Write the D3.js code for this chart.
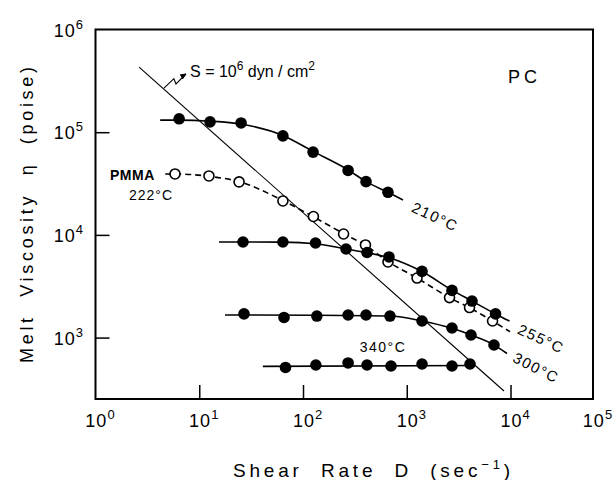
<!DOCTYPE html>
<html>
<head>
<meta charset="utf-8">
<script src="https://cdn.jsdelivr.net/npm/d3@7"></script>
<style>
  html, body { margin: 0; padding: 0; background: #fff; }
  svg { display: block; }
  text { font-family: "Liberation Sans", "DejaVu Sans", sans-serif; fill: #000; }
</style>
</head>
<body>
<svg id="chart" width="615" height="480"></svg>
<script>
// ---- data ----
const xTickExponents = [0, 1, 2, 3, 4, 5];
const yTickExponents = [3, 4, 5, 6];

const pc210D   = [6.4, 12.7, 25.3, 64, 125, 272, 405, 659];
const pc210Eta = [1.35e5, 1.26e5, 1.23e5, 9.2e4, 6.4e4, 4.24e4, 3.3e4, 2.6e4];
const pc210FitD   = [4.2, 6.4, 12.7, 25.3, 64, 125, 272, 405, 659, 920];
const pc210FitEta = [1.31e5, 1.31e5, 1.28e5, 1.2e5, 9.3e4, 6.5e4, 4.3e4, 3.3e4, 2.6e4, 2.19e4];

const pmmaD   = [5.84, 12.4, 24.2, 64, 126, 246, 400, 659, 1256, 2583, 4027, 6710];
const pmmaEta = [3.92e4, 3.75e4, 3.28e4, 2.14e4, 1.51e4, 1.02e4, 7.98e3, 5.45e3, 3.80e3, 2.45e3, 1.96e3, 1.45e3];
const pmmaFitD   = [4.7, 5.84, 12.4, 24.2, 64, 126, 246, 400, 659, 1256, 2583, 4027, 6710, 9890];
const pmmaFitEta = [3.92e4, 3.92e4, 3.72e4, 3.3e4, 2.16e4, 1.5e4, 1.03e4, 7.9e3, 5.5e3, 3.8e3, 2.45e3, 1.95e3, 1.45e3, 1.14e3];

const pc255D   = [26.4, 64, 132, 260, 414, 674, 1403, 2728, 4254, 7169];
const pc255Eta = [8.53e3, 8.53e3, 8.34e3, 7.29e3, 6.74e3, 6.10e3, 4.41e3, 2.88e3, 2.27e3, 1.70e3];
const pc255FitD   = [15.5, 64, 132, 260, 414, 674, 1403, 2728, 4254, 7169, 9780];
const pc255FitEta = [8.53e3, 8.5e3, 8.2e3, 7.3e3, 6.7e3, 6.0e3, 4.4e3, 2.9e3, 2.27e3, 1.70e3, 1.45e3];

const pc300D   = [27, 65.6, 136, 272, 405, 689, 1403, 2728, 4160, 6930];
const pc300Eta = [1.70e3, 1.57e3, 1.62e3, 1.66e3, 1.66e3, 1.62e3, 1.45e3, 1.24e3, 1.06e3, 847];
const pc300FitD   = [17.7, 136, 689, 1403, 2728, 4160, 6930, 9250];
const pc300FitEta = [1.66e3, 1.65e3, 1.62e3, 1.45e3, 1.23e3, 1.06e3, 850, 700];

const pc340D   = [67.8, 133, 272, 414, 705, 1403, 2728, 4070];
const pc340Eta = [512, 541, 566, 541, 529, 553, 529, 553];
const pc340FitD   = [41, 4550];
const pc340FitEta = [524, 534];

const stressLineD   = [2.63, 8650];
const stressLineEta = [4.3e5, 302];

// ---- scales ----
const x = d3.scaleLog().domain([1, Math.pow(10, 4.795)]).range([95.5, 593]).clamp(true);
const y = d3.scaleLog().domain([Math.pow(10, 2.402), 1e6]).range([399, 29.5]);

const svg = d3.select("#chart");

// frame
svg.append("rect")
  .attr("x", x.range()[0]).attr("y", y.range()[1])
  .attr("width", x.range()[1] - x.range()[0])
  .attr("height", y.range()[0] - y.range()[1])
  .attr("fill", "none").attr("stroke", "#000").attr("stroke-width", 2);

// axes (inner ticks)
const xAxis = d3.axisBottom(x).tickValues([1e1, 1e2, 1e3, 1e4]).tickSizeInner(-14).tickSizeOuter(0).tickFormat("");
const gx = svg.append("g").attr("transform", `translate(0,${y.range()[0]})`).call(xAxis);
gx.select(".domain").remove();
gx.selectAll(".tick line").attr("stroke", "#000").attr("stroke-width", 1.5);

const yAxis = d3.axisLeft(y).tickValues([1e3, 1e4, 1e5]).tickSizeInner(-14).tickSizeOuter(0).tickFormat("");
const gy = svg.append("g").attr("transform", `translate(${x.range()[0]},0)`).call(yAxis);
gy.select(".domain").remove();
gy.selectAll(".tick line").attr("stroke", "#000").attr("stroke-width", 1.5);

// x tick labels
xTickExponents.forEach(e => {
  const t = svg.append("text")
    .attr("x", x(Math.pow(10, e)) + 5).attr("y", 427)
    .attr("text-anchor", "middle").attr("font-size", 18).attr("letter-spacing", 1);
  t.append("tspan").text("10");
  t.append("tspan").attr("dy", -8).attr("font-size", 13).text(e);
});
// y tick labels
yTickExponents.forEach(e => {
  const t = svg.append("text")
    .attr("x", 84).attr("y", y(Math.pow(10, e)) + 7)
    .attr("text-anchor", "end").attr("font-size", 18).attr("letter-spacing", 1);
  t.append("tspan").text("10");
  t.append("tspan").attr("dy", -8).attr("font-size", 13).text(e);
});

// axis titles
const xt = svg.append("text").attr("x", 233).attr("y", 477).attr("font-size", 19)
  .attr("textLength", 277).attr("lengthAdjust", "spacing").style("white-space", "pre");
xt.append("tspan").text("Shear  Rate  D  (sec");
xt.append("tspan").attr("dy", -8).attr("font-size", 13).text("−1");
xt.append("tspan").attr("dy", 8).text(")");

svg.append("text")
  .attr("transform", "translate(33,363) rotate(-90)")
  .attr("font-size", 18).attr("textLength", 296).attr("lengthAdjust", "spacing")
  .style("white-space", "pre")
  .text("Melt  Viscosity  η  (poise)");

// stress line S = 10^6
const lineGen = d3.line().x(d => x(d[0])).y(d => y(d[1]));
svg.append("path")
  .datum(d3.zip(stressLineD, stressLineEta))
  .attr("d", lineGen).attr("fill", "none").attr("stroke", "#000").attr("stroke-width", 1.1);

// curves
const curveGen = d3.line().x(d => x(d[0])).y(d => y(d[1])).curve(d3.curveMonotoneX);
function series(Ds, Etas, fitD, fitEta, open, dashed) {
  const pts = d3.zip(Ds, Etas);
  svg.append("path").datum(d3.zip(fitD, fitEta)).attr("d", curveGen)
    .attr("fill", "none").attr("stroke", "#000").attr("stroke-width", 1.6)
    .attr("stroke-dasharray", dashed ? "6,4" : null);
  svg.append("g").selectAll("circle").data(pts).join("circle")
    .attr("cx", d => x(d[0])).attr("cy", d => y(d[1]))
    .attr("r", open ? 5 : 5.8)
    .attr("fill", open ? "#fff" : "#000")
    .attr("stroke", "#000").attr("stroke-width", open ? 1.6 : 0);
}
series(pc210D, pc210Eta, pc210FitD, pc210FitEta, false, false);
series(pmmaD, pmmaEta, pmmaFitD, pmmaFitEta, true, true);
series(pc255D, pc255Eta, pc255FitD, pc255FitEta, false, false);
series(pc300D, pc300Eta, pc300FitD, pc300FitEta, false, false);
series(pc340D, pc340Eta, pc340FitD, pc340FitEta, false, false);

// annotations
function label(D, eta, txt, opts = {}) {
  return svg.append("text")
    .attr("transform", `translate(${x(D)},${y(eta)}) rotate(${opts.rot || 0})`)
    .attr("text-anchor", opts.anchor || "middle")
    .attr("font-size", opts.size || 15)
    .attr("font-weight", opts.bold ? "bold" : null)
    .attr("letter-spacing", opts.ls != null ? opts.ls : 1.5)
    .text(txt);
}
label(1872, 1.49e4, "210°C", { rot: 25, size: 15 }).attr("dy", 5);
label(19680, 968, "255°C", { rot: 25, size: 15 }).attr("dy", 5);
label(17620, 506, "300°C", { rot: 27, size: 15 }).attr("dy", 5);
label(590, 809, "340°C", { size: 14 }).attr("dy", 5);
label(9460, 3.01e5, "PC", { anchor: "start", size: 18, ls: 4 });
label(1.38, 3.43e4, "PMMA", { anchor: "start", size: 14, bold: true, ls: 0.5 });
label(2.10, 2.19e4, "222°C", { anchor: "start", size: 14, ls: 1 });

// S = 10^6 dyn/cm^2
const st = svg.append("text").attr("x", x(8.15)).attr("y", y(3.45e5)).attr("font-size", 16);
st.append("tspan").text("S = 10");
st.append("tspan").attr("dy", -7).attr("font-size", 12).text("6");
st.append("tspan").attr("dy", 7).text(" dyn / cm");
st.append("tspan").attr("dy", -7).attr("font-size", 12).text("2");

// zigzag arrow
const zA = [x(4.57), y(2.69e5)], zB = [x(7.45), y(3.69e5)];
const dx = zB[0] - zA[0], dy = zB[1] - zA[1];
const zz = [
  zA,
  [zA[0] + dx * 0.45, zA[1] + dy * 0.45 - 3],
  [zA[0] + dx * 0.5 + 1, zA[1] + dy * 0.5 + 3],
  zB
];
svg.append("path").attr("d", d3.line()(zz)).attr("fill", "none").attr("stroke", "#000").attr("stroke-width", 1.1);
const ang = Math.atan2(dy, dx);
const ah = 6;
svg.append("path")
  .attr("d", d3.line()([
    [zB[0] - ah * Math.cos(ang - 0.4), zB[1] - ah * Math.sin(ang - 0.4)],
    zB,
    [zB[0] - ah * Math.cos(ang + 0.4), zB[1] - ah * Math.sin(ang + 0.4)]
  ]))
  .attr("fill", "#000").attr("stroke", "#000").attr("stroke-width", 1);
</script>
</body>
</html>
